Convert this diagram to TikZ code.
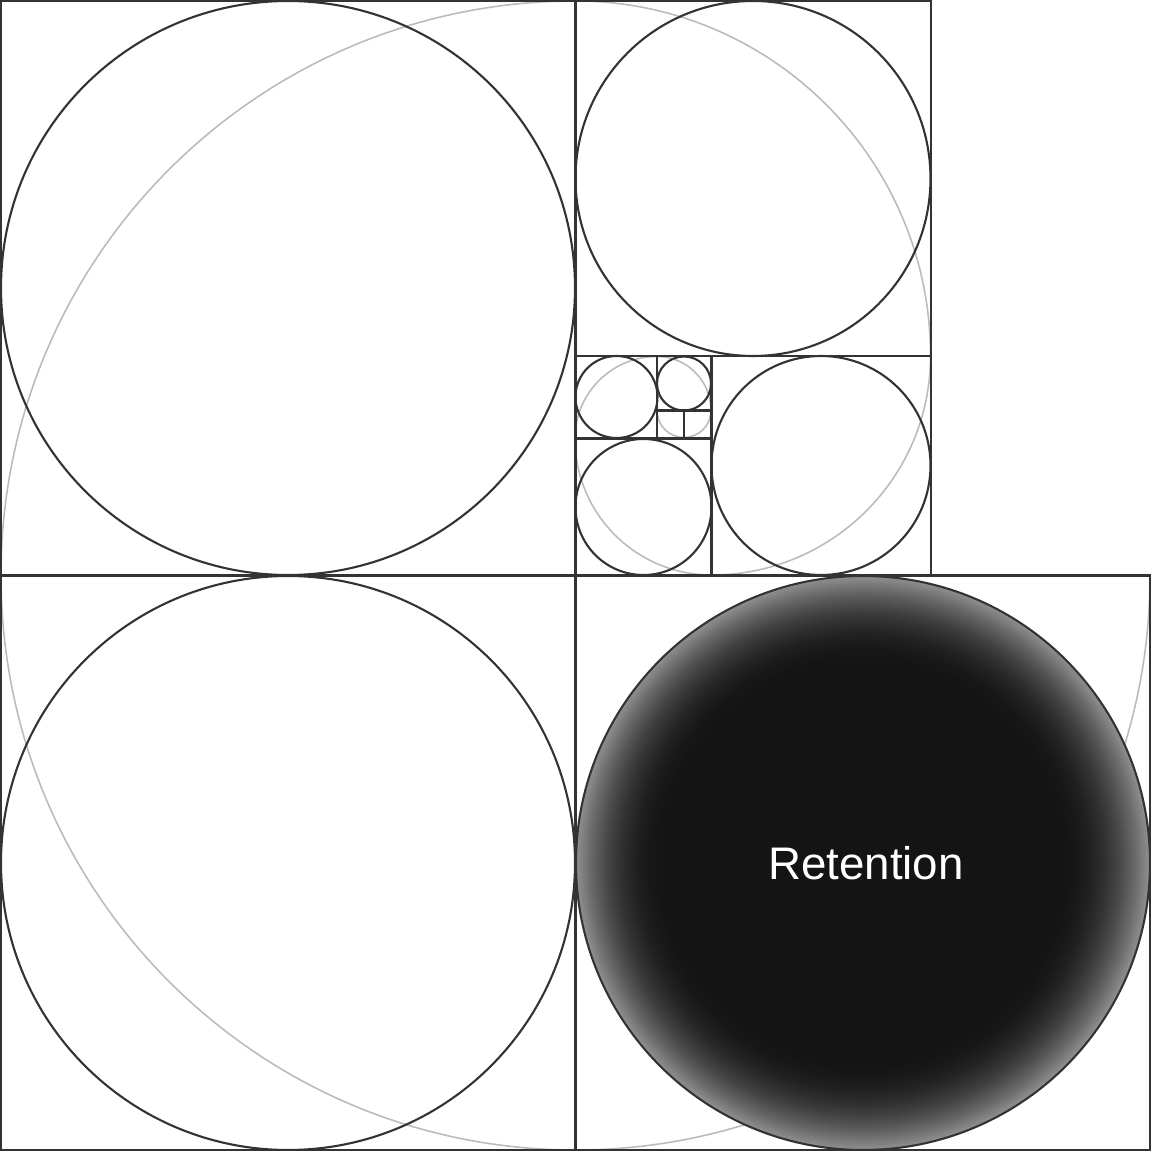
\documentclass[tikz,border=0pt]{standalone}
\usepackage{tikz}
\usepackage{tkz-euclide}
\usepackage{xcolor}
\usepackage{fontspec}
\setmainfont{Liberation Sans}
\definecolor{ink}{HTML}{333333}
\definecolor{arcgrey}{HTML}{BBBBBB}
\definecolor{core}{HTML}{141414}
\definecolor{rim}{HTML}{8E8E8E}

\begin{document}
\begin{tikzpicture}[frame/.style={color=ink,line width=0.6pt},turn/.style={color=arcgrey,line width=0.45pt}]
		\useasboundingbox (0,0) rectangle (11.51,11.51);
		% golden spiral
		\draw[turn] (11.5,5.755) arc[start angle=0, end angle=-270, radius=5.745]
			arc[start angle=90, end angle=0, radius=3.55]
			arc[start angle=0, end angle=-90, radius=2.19]
			arc[start angle=-90, end angle=-180, radius=1.365]
			arc[start angle=180, end angle=90, radius=0.82]
			arc[start angle=90, end angle=0, radius=0.54]
			arc[start angle=0, end angle=-180, radius=0.27];
		%
		\draw[frame] (0.01,0.01) rectangle (11.5,5.755);
		\draw[frame] (5.755,0.01) -- (5.755,11.5);
		\draw[frame] (0.01,5.755) rectangle (9.31,11.5);
		\draw[frame] (5.755,7.95) -- (9.31,7.95);
		\draw[frame] (7.115,5.755) -- (7.115,7.95);
		\draw[frame] (5.755,7.125) -- (7.115,7.125);
		\draw[frame] (6.57,7.125) -- (6.57,7.95);
		\draw[frame] (6.57,7.405) -- (7.115,7.405);
		\draw[frame] (6.84,7.125) -- (6.84,7.405);
		%
		\tkzDefPoint(2.88,8.63){A}
		\tkzDefPoint(0.01,8.63){Ar}
		\tkzDrawCircle[frame](A,Ar)
		%
		\tkzDefPoint(2.88,2.88){B}
		\tkzDefPoint(0.01,2.88){Br}
		\tkzDrawCircle[frame](B,Br)
		%
		\tkzDefPoint(8.63,2.88){C}
		\tkzDefPoint(11.5,2.88){Cr}
		\foreach \k in {0,...,40}{
			\pgfmathsetmacro{\r}{2.87-0.023*\k}
			\pgfmathsetmacro{\p}{100*(1-\k/40)^2.2}
			\fill[rim!\p!core] (C) circle (\r);
		}
		\tkzDrawCircle[frame](C,Cr)
		%
		\tkzDefPoint(7.53,9.725){D}
		\tkzDefPoint(9.305,9.725){Dr}
		\tkzDrawCircle[frame](D,Dr)
		%
		\tkzDefPoint(8.21,6.855){F}
		\tkzDefPoint(9.305,6.855){Fr}
		\tkzDrawCircle[frame](F,Fr)
		%
		\tkzDefPoint(6.435,6.44){G}
		\tkzDefPoint(7.115,6.44){Gr}
		\tkzDrawCircle[frame](G,Gr)
		%
		\tkzDefPoint(6.165,7.54){H}
		\tkzDefPoint(6.575,7.54){Hr}
		\tkzDrawCircle[frame](H,Hr)
		%
		\tkzDefPoint(6.84,7.675){K}
		\tkzDefPoint(7.11,7.675){Kr}
		\tkzDrawCircle[frame](K,Kr)
		%
		\node (ret) at (8.66,2.71) [anchor=base] {\textcolor{white}{\fontsize{13}{15}\selectfont Retention}};
	\end{tikzpicture}
\end{document}
